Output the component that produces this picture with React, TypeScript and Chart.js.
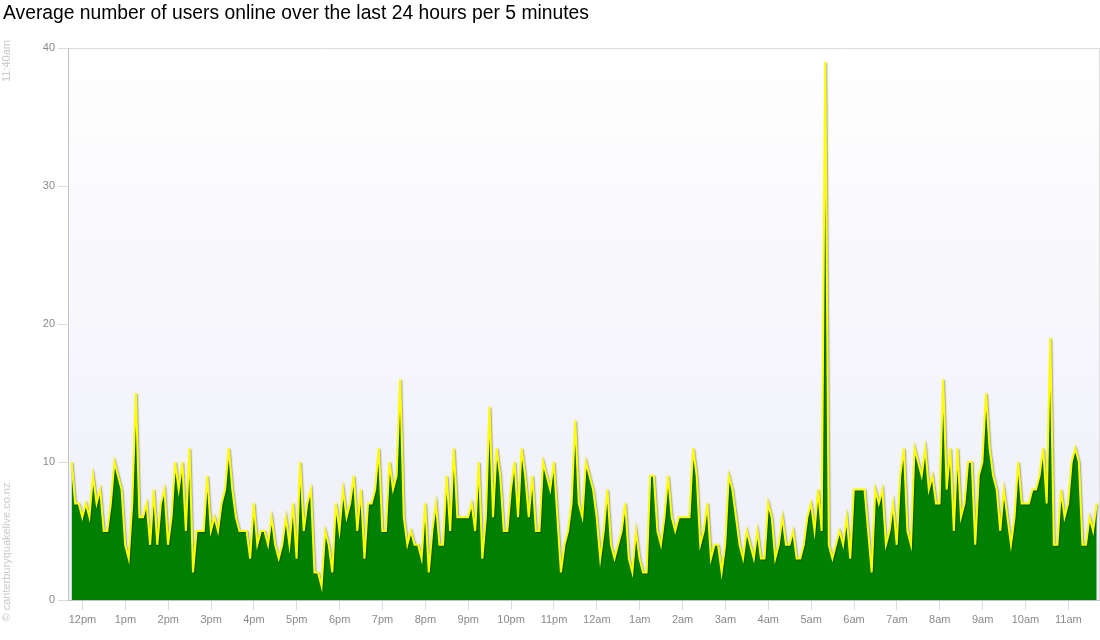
import React, { useEffect, useRef } from "react";
import { Chart, registerables } from "chart.js";

Chart.register(...registerables);

const TITLE = "Average number of users online over the last 24 hours per 5 minutes";
const SIDE_TIME = "11:40am";
const CREDIT = "© canterburyquakelive.co.nz";

const HOUR_LABELS = [
  "12pm", "1pm", "2pm", "3pm", "4pm", "5pm", "6pm", "7pm", "8pm", "9pm", "10pm", "11pm",
  "12am", "1am", "2am", "3am", "4am", "5am", "6am", "7am", "8am", "9am", "10am", "11am",
];
const Y_TICKS = [0, 10, 20, 30, 40];

// first sample time, minutes relative to 12pm; one sample every 5 minutes
const FIRST_SAMPLE_MIN = -15.3;
const STEP_MIN = 5;

// average users online, 5-minute samples, in time order
const usersMidday = [10, 7, 7, 6, 7, 6, 9, 7, 8, 5, 5, 7, 10, 9, 8, 4, 3, 7, 15, 6, 6, 7, 4, 8, 4, 7, 8, 4, 6, 10, 8, 10, 5, 11, 2];
const usersAfternoon = [5, 5, 5, 9, 5, 6, 5, 7, 8, 11, 8, 6, 5, 5, 5, 3, 7, 4, 5, 5, 4, 6, 4, 3, 4, 6, 4, 7, 3, 10, 5, 7, 8, 2, 2, 1];
const usersEarlyEvening = [5, 4, 2, 7, 5, 8, 6, 7, 9, 5, 8, 3, 7, 7, 8, 11, 5, 5, 10, 8, 9, 16, 6, 4, 5, 4, 4, 3, 7, 2, 5, 7, 4, 4, 9];
const usersLateEvening = [5, 11, 6, 6, 6, 6, 7, 5, 10, 3, 6, 14, 6, 11, 9, 5, 5, 8, 10, 6, 11, 9, 6, 9, 5, 5, 10, 9, 8, 10, 6, 2, 4, 5, 7, 13, 7, 6];
const usersMidnight = [10, 9, 8, 6, 3, 5, 8, 4, 3, 4, 5, 7, 3, 2, 5, 3, 2, 2, 9, 9, 5, 4, 6, 9, 6, 5, 6, 6, 6, 6, 11, 9, 4, 5, 7, 3, 4];
const usersSmallHours = [4, 2, 4, 9, 8, 6, 4, 3, 5, 4, 3, 5, 3, 3, 7, 6, 3, 4, 6, 4, 4, 5, 3, 3, 4, 6, 7, 5, 8, 5, 39, 4, 3, 4, 5, 4];
const usersEarlyMorning = [6, 3, 8, 8, 8, 8, 5, 2, 8, 7, 8, 4, 5, 7, 4, 9, 11, 5, 4, 11, 10, 9, 11, 8, 9, 7, 7, 16, 8, 11, 5, 11, 6, 7, 10, 10];
const usersMorning = [4, 9, 10, 15, 11, 9, 8, 5, 8, 6, 4, 6, 10, 7, 7, 7, 8, 8, 9, 11, 7, 19, 4, 4, 8, 6, 7, 10, 11, 10, 4, 4, 6, 5, 7];

const USERS = [
  ...usersMidday,
  ...usersAfternoon,
  ...usersEarlyEvening,
  ...usersLateEvening,
  ...usersMidnight,
  ...usersSmallHours,
  ...usersEarlyMorning,
  ...usersMorning,
];

const FONT = '"Liberation Sans", Arial, sans-serif';

const plotBackground = {
  id: "plotBackground",
  beforeDraw(chart: any) {
    const { ctx, chartArea } = chart;
    const { left, right, top, bottom } = chartArea;
    ctx.save();
    const g = ctx.createLinearGradient(0, top, 0, bottom);
    g.addColorStop(0, "#ffffff");
    g.addColorStop(1, "#eeeef9");
    ctx.fillStyle = g;
    ctx.fillRect(left, top, right - left, bottom - top);
    ctx.strokeStyle = "#dddddd";
    ctx.lineWidth = 1;
    ctx.beginPath();
    ctx.moveTo(Math.round(right) + 0.5, top);
    ctx.lineTo(Math.round(right) + 0.5, bottom);
    ctx.stroke();
    ctx.restore();
  },
};

const lineShadow = {
  id: "lineShadow",
  beforeDatasetDraw(chart: any) {
    const ctx = chart.ctx;
    ctx.save();
    ctx.shadowColor = "rgba(0,0,0,0.35)";
    ctx.shadowOffsetX = 1;
    ctx.shadowOffsetY = 1;
    ctx.shadowBlur = 1.5;
  },
  afterDatasetDraw(chart: any) {
    chart.ctx.restore();
  },
};

export default function App() {
  const canvasRef = useRef<HTMLCanvasElement | null>(null);

  useEffect(() => {
    document.body.style.margin = "0";
    document.body.style.overflow = "hidden";
    const canvas = canvasRef.current;
    if (!canvas) return;
    const points = USERS.map((v, i) => ({ x: FIRST_SAMPLE_MIN + i * STEP_MIN, y: v }));
    const chart = new Chart(canvas, {
      type: "line",
      data: {
        datasets: [
          {
            data: points,
            borderColor: "#ffff00",
            borderWidth: 2,
            backgroundColor: "#008000",
            fill: "origin",
            pointRadius: 0,
            pointHoverRadius: 0,
            tension: 0,
          },
        ],
      },
      options: {
        animation: false,
        responsive: false,
        maintainAspectRatio: false,
        devicePixelRatio: 1,
        layout: { padding: { top: 48, right: 1, left: 0, bottom: 0 } },
        plugins: {
          legend: { display: false },
          tooltip: { enabled: false },
          title: { display: false },
        },
        scales: {
          x: {
            type: "linear",
            min: FIRST_SAMPLE_MIN - STEP_MIN,
            max: FIRST_SAMPLE_MIN + (USERS.length - 1) * STEP_MIN + 3.2,
            afterBuildTicks: (s: any) => {
              s.ticks = HOUR_LABELS.map((_, k) => ({ value: k * 60 }));
            },
            afterFit: (s: any) => {
              s.height = 40;
            },
            ticks: {
              autoSkip: false,
              maxRotation: 0,
              minRotation: 0,
              color: "#8a8a8a",
              padding: 3,
              font: { family: FONT, size: 11 },
              callback: (v: any) => HOUR_LABELS[Math.round(Number(v) / 60)],
            },
            grid: {
              drawOnChartArea: false,
              color: "#dddddd",
              tickColor: "#dddddd",
              tickLength: 10,
            },
            border: { color: "#c0c0d0", width: 1 },
          },
          y: {
            min: 0,
            max: 40,
            afterBuildTicks: (s: any) => {
              s.ticks = Y_TICKS.map((v) => ({ value: v }));
            },
            afterFit: (s: any) => {
              s.width = 68;
            },
            ticks: {
              color: "#8a8a8a",
              padding: 3,
              font: { family: FONT, size: 11 },
            },
            grid: {
              color: (c: any) => (c.tick && c.tick.value === 40 ? "#dddddd" : "rgba(0,0,0,0)"),
              tickColor: "#dddddd",
              tickLength: 10,
            },
            border: { color: "#c0c0d0", width: 1 },
          },
        },
      },
      plugins: [plotBackground, lineShadow],
    });
    return () => chart.destroy();
  }, []);

  const sideText: React.CSSProperties = {
    position: "absolute",
    transform: "translate(-50%, -50%) rotate(-90deg)",
    whiteSpace: "nowrap",
    font: `11px ${FONT}`,
    color: "#c8c8c8",
  };

  return (
    <div style={{ position: "absolute", left: 0, top: 0, width: 1100, height: 640, background: "#ffffff" }}>
      <canvas ref={canvasRef} width={1100} height={640} style={{ position: "absolute", left: 0, top: 0, width: 1100, height: 640 }} />
      <div
        style={{
          position: "absolute",
          left: 3,
          top: 2,
          font: `19.3px ${FONT}`,
          color: "#000000",
          whiteSpace: "nowrap",
        }}
      >
        {TITLE}
      </div>
      <div style={{ ...sideText, left: 6, top: 61 }}>{SIDE_TIME}</div>
      <div style={{ ...sideText, left: 6, top: 552 }}>{CREDIT}</div>
    </div>
  );
}
